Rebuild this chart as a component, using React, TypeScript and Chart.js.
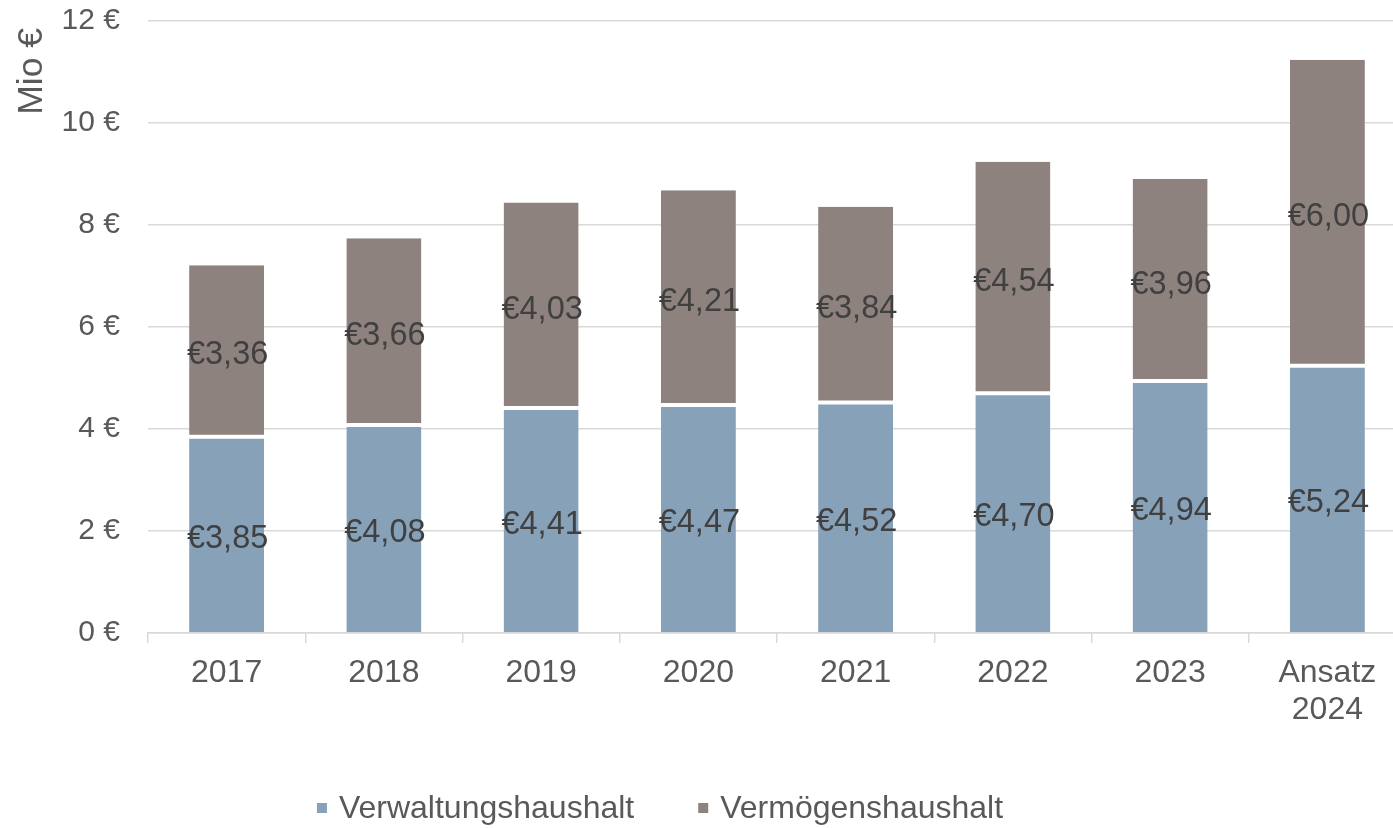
import React, { useEffect, useRef } from 'react';
import { Chart, registerables } from 'chart.js';
Chart.register(...registerables);

const categories: (string | string[])[] = ['2017', '2018', '2019', '2020', '2021', '2022', '2023', ['Ansatz', '2024']];
const verwaltung = [3.85, 4.08, 4.41, 4.47, 4.52, 4.70, 4.94, 5.24];
const vermoegen = [3.36, 3.66, 4.03, 4.21, 3.84, 4.54, 3.96, 6.00];
const seriesNames = ['Verwaltungshaushalt', 'Vermögenshaushalt'];
const seriesColors = ['#87A1B9', '#8E827F'];
const yMin = 0;
const yMax = 12;
const yStep = 2;
const yTitle = 'Mio €';

const FONT = '"Liberation Sans", Arial, sans-serif';
const TEXT = '#595959';
const LABEL = '#404040';
const GRID = '#d9d9d9';

const fmtLabel = (v: number) => '€' + v.toFixed(2).replace('.', ',');

const dataLabelPlugin = {
  id: 'dataLabels',
  afterDatasetsDraw(chart: any) {
    const ctx = chart.ctx;
    ctx.save();
    ctx.font = `32.5px ${FONT}`;
    ctx.fillStyle = LABEL;
    ctx.textAlign = 'center';
    ctx.textBaseline = 'middle';
    chart.data.datasets.forEach((ds: any, di: number) => {
      const meta = chart.getDatasetMeta(di);
      meta.data.forEach((el: any, i: number) => {
        const { x, y, base } = el.getProps(['x', 'y', 'base'], true);
        ctx.fillText(fmtLabel(ds.data[i]), x + 1, (y + base) / 2 + 4.5);
      });
    });
    ctx.restore();
  },
};

const titlePlugin = {
  id: 'yTitle',
  afterDraw(chart: any) {
    const ctx = chart.ctx;
    ctx.save();
    ctx.font = `35.5px ${FONT}`;
    ctx.fillStyle = TEXT;
    ctx.textAlign = 'right';
    ctx.textBaseline = 'middle';
    ctx.translate(32.5, chart.chartArea.top + 7);
    ctx.rotate(-Math.PI / 2);
    ctx.fillText(yTitle, 0, 0);
    ctx.restore();
  },
};

const legendPlugin = {
  id: 'customLegend',
  afterDraw(chart: any) {
    const ctx = chart.ctx;
    ctx.save();
    ctx.font = `32px ${FONT}`;
    ctx.textBaseline = 'middle';
    const box = 10;
    const gapText = 12;
    const gapItem = 64;
    const widths = seriesNames.map((n) => box + gapText + ctx.measureText(n).width);
    const total = widths.reduce((a, b) => a + b, 0) + gapItem * (seriesNames.length - 1);
    const cy = 808;
    let x = 660 - total / 2;
    seriesNames.forEach((n, i) => {
      ctx.fillStyle = seriesColors[i];
      ctx.fillRect(x, cy - box / 2, box, box);
      ctx.fillStyle = TEXT;
      ctx.textAlign = 'left';
      ctx.fillText(n, x + box + gapText, cy + 1);
      x += widths[i] + gapItem;
    });
    ctx.restore();
  },
};

export default function App() {
  const ref = useRef<HTMLCanvasElement>(null);
  useEffect(() => {
    if (!ref.current) return;
    const chart = new Chart(ref.current, {
      type: 'bar',
      data: {
        labels: categories,
        datasets: [
          {
            label: seriesNames[0],
            data: verwaltung,
            backgroundColor: seriesColors[0],
            borderColor: '#ffffff',
            borderWidth: { top: 2, left: 0, right: 0, bottom: 0 },
            borderSkipped: false,
            barPercentage: 0.477,
            categoryPercentage: 1,
          },
          {
            label: seriesNames[1],
            data: vermoegen,
            backgroundColor: seriesColors[1],
            borderColor: '#ffffff',
            borderWidth: { top: 0, left: 0, right: 0, bottom: 2 },
            borderSkipped: false,
            barPercentage: 0.477,
            categoryPercentage: 1,
          },
        ],
      },
      options: {
        responsive: false,
        animation: false,
        devicePixelRatio: 1,
        layout: { padding: { top: 21, right: 0, bottom: 0, left: 0 } },
        plugins: {
          legend: { display: false },
          tooltip: { enabled: false },
        },
        scales: {
          x: {
            stacked: true,
            grid: {
              display: true,
              drawOnChartArea: false,
              offset: true,
              tickLength: 10,
              color: GRID,
              lineWidth: 1.5,
            },
            border: { display: true, color: GRID, width: 1.5 },
            ticks: {
              color: TEXT,
              font: { family: FONT, size: 32, lineHeight: 1.17 },
              padding: 11,
              maxRotation: 0,
              autoSkip: false,
            },
            afterFit(scale: any) {
              scale.height = 195;
              scale.paddingLeft = 0;
              scale.paddingRight = 0;
            },
          },
          y: {
            stacked: true,
            min: yMin,
            max: yMax,
            grid: { color: GRID, lineWidth: 1.5, drawTicks: false },
            border: { display: false },
            ticks: {
              stepSize: yStep,
              color: TEXT,
              font: { family: FONT, size: 30 },
              padding: 28,
              callback: (v: any) => `${v} €`,
            },
            afterFit(scale: any) {
              scale.width = 148;
              scale.paddingTop = 0;
              scale.paddingBottom = 0;
            },
          },
        },
      },
      plugins: [dataLabelPlugin, titlePlugin, legendPlugin],
    });
    return () => chart.destroy();
  }, []);
  return (
    <div style={{ position: 'absolute', left: 0, top: 0, width: 1393, height: 828, overflow: 'hidden', background: '#fff' }}>
      <canvas ref={ref} width={1406} height={828} style={{ display: 'block' }} />
    </div>
  );
}
